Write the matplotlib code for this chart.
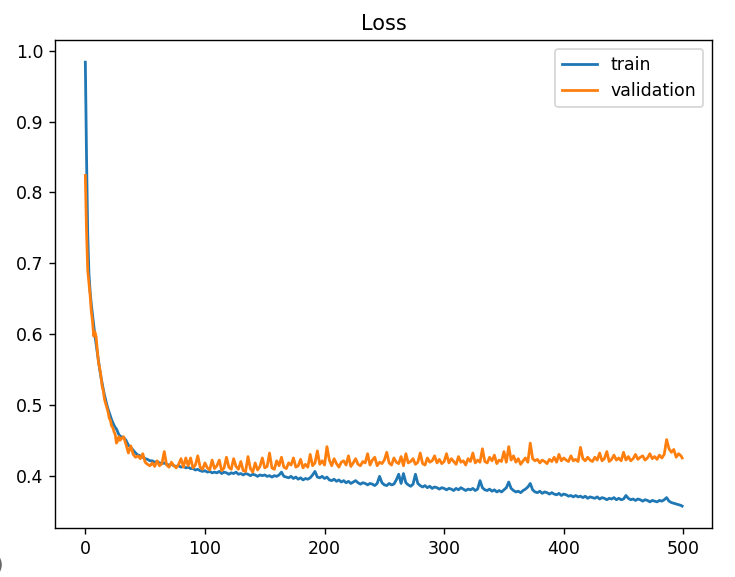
import numpy as np
import matplotlib
matplotlib.use("Agg")
import matplotlib.pyplot as plt

# epochs: every epoch for the steep start, then every 2nd epoch
epochs = np.r_[0:30, 30:499:2, 499]

train_loss = [
    0.984, 0.850, 0.742, 0.686, 0.660, 0.642, 0.627, 0.612, 0.598, 0.586,
    0.573, 0.561, 0.550, 0.540, 0.531, 0.522, 0.514, 0.507, 0.500, 0.494,
    0.489, 0.484, 0.479, 0.475, 0.471, 0.468, 0.466, 0.462, 0.458, 0.456,
    # 30 .. 498 step 2
    0.455, 0.454, 0.450, 0.443, 0.440, 0.436, 0.432, 0.429, 0.428, 0.426,
    0.424, 0.423, 0.421, 0.421, 0.419, 0.420, 0.418, 0.417, 0.418, 0.416,
    0.415, 0.416, 0.414, 0.413, 0.414, 0.412, 0.413, 0.411, 0.412, 0.410,
    0.410, 0.408, 0.409, 0.407, 0.406, 0.407, 0.405, 0.406, 0.404, 0.405,
    0.404, 0.406, 0.403, 0.405, 0.404, 0.402, 0.404, 0.403, 0.405, 0.402,
    0.403, 0.401, 0.403, 0.402, 0.400, 0.402, 0.401, 0.399, 0.401, 0.400,
    0.401, 0.399, 0.400, 0.398, 0.400, 0.399, 0.401, 0.405, 0.399, 0.398,
    0.397, 0.399, 0.396, 0.398, 0.395, 0.397, 0.394, 0.396, 0.395, 0.397,
    0.401, 0.406, 0.398, 0.397, 0.399, 0.396, 0.398, 0.394, 0.393, 0.395,
    0.392, 0.394, 0.391, 0.393, 0.390, 0.392, 0.389, 0.391, 0.393, 0.390,
    0.388, 0.390, 0.389, 0.387, 0.389, 0.388, 0.386, 0.389, 0.399, 0.390,
    0.387, 0.386, 0.389, 0.387, 0.388, 0.394, 0.402, 0.389, 0.403, 0.390,
    0.387, 0.385, 0.388, 0.402, 0.389, 0.386, 0.384, 0.386, 0.383, 0.385,
    0.382, 0.384, 0.383, 0.381, 0.383, 0.382, 0.380, 0.382, 0.381, 0.379,
    0.382, 0.380, 0.383, 0.381, 0.379, 0.381, 0.380, 0.382, 0.379, 0.381,
    0.393, 0.383, 0.380, 0.379, 0.381, 0.378, 0.380, 0.377, 0.379, 0.377,
    0.380, 0.383, 0.391, 0.382, 0.379, 0.377, 0.378, 0.376, 0.379, 0.381,
    0.384, 0.389, 0.380, 0.377, 0.376, 0.378, 0.375, 0.377, 0.376, 0.374,
    0.376, 0.374, 0.373, 0.375, 0.372, 0.374, 0.373, 0.371, 0.372, 0.370,
    0.372, 0.370, 0.371, 0.369, 0.371, 0.368, 0.370, 0.369, 0.368, 0.370,
    0.367, 0.369, 0.368, 0.366, 0.368, 0.367, 0.369, 0.366, 0.368, 0.366,
    0.367, 0.372, 0.368, 0.366, 0.367, 0.365, 0.367, 0.366, 0.364, 0.366,
    0.365, 0.363, 0.365, 0.364, 0.363, 0.365, 0.364, 0.366, 0.369, 0.364,
    0.362, 0.361, 0.360, 0.359, 0.358, 0.357,
]

val_loss = [
    0.824, 0.745, 0.690, 0.672, 0.655, 0.632, 0.618, 0.597, 0.603, 0.596,
    0.577, 0.560, 0.552, 0.541, 0.527, 0.520, 0.508, 0.502, 0.496, 0.490,
    0.481, 0.478, 0.470, 0.468, 0.462, 0.458, 0.446, 0.449, 0.455, 0.450,
    # 30 .. 498 step 2
    0.452, 0.455, 0.444, 0.432, 0.442, 0.430, 0.426, 0.428, 0.424, 0.431,
    0.419, 0.416, 0.414, 0.418, 0.413, 0.421, 0.414, 0.417, 0.434, 0.415,
    0.412, 0.419, 0.414, 0.411, 0.416, 0.424, 0.412, 0.425, 0.414, 0.425,
    0.411, 0.415, 0.428, 0.412, 0.409, 0.418, 0.411, 0.408, 0.422, 0.410,
    0.414, 0.422, 0.407, 0.411, 0.426, 0.412, 0.409, 0.424, 0.413, 0.409,
    0.420, 0.407, 0.406, 0.427, 0.410, 0.405, 0.418, 0.408, 0.413, 0.425,
    0.411, 0.413, 0.432, 0.411, 0.409, 0.421, 0.414, 0.426, 0.412, 0.410,
    0.418, 0.415, 0.425, 0.412, 0.414, 0.423, 0.411, 0.416, 0.412, 0.430,
    0.414, 0.418, 0.435, 0.416, 0.421, 0.415, 0.441, 0.422, 0.414, 0.424,
    0.417, 0.412, 0.419, 0.421, 0.415, 0.428, 0.413, 0.418, 0.424, 0.416,
    0.414, 0.420, 0.418, 0.431, 0.415, 0.422, 0.426, 0.414, 0.419, 0.417,
    0.422, 0.433, 0.418, 0.415, 0.425, 0.419, 0.417, 0.427, 0.414, 0.431,
    0.418, 0.420, 0.424, 0.416, 0.419, 0.432, 0.417, 0.415, 0.425, 0.419,
    0.421, 0.428, 0.418, 0.423, 0.417, 0.420, 0.431, 0.418, 0.424, 0.420,
    0.416, 0.427, 0.419, 0.421, 0.415, 0.424, 0.420, 0.432, 0.418, 0.422,
    0.419, 0.438, 0.420, 0.418, 0.426, 0.421, 0.429, 0.417, 0.422, 0.420,
    0.434, 0.419, 0.441, 0.422, 0.428, 0.419, 0.424, 0.416, 0.421, 0.425,
    0.419, 0.446, 0.424, 0.421, 0.423, 0.418, 0.422, 0.420, 0.417, 0.423,
    0.420, 0.426, 0.419, 0.430, 0.421, 0.425, 0.422, 0.420, 0.428, 0.421,
    0.423, 0.420, 0.440, 0.424, 0.421, 0.426, 0.422, 0.420, 0.426, 0.422,
    0.432, 0.421, 0.424, 0.434, 0.420, 0.423, 0.429, 0.422, 0.425, 0.421,
    0.433, 0.422, 0.427, 0.421, 0.424, 0.430, 0.423, 0.426, 0.428, 0.422,
    0.425, 0.431, 0.424, 0.427, 0.423, 0.429, 0.425, 0.430, 0.451, 0.438,
    0.433, 0.437, 0.426, 0.431, 0.428, 0.425,
]

fig = plt.figure(figsize=(5.88, 4.616), dpi=125)
ax = fig.add_axes([0.0755, 0.0844, 0.8932, 0.8463])

ax.plot(epochs, train_loss, label='train', lw=1.6)
ax.plot(epochs, val_loss, label='validation', lw=1.6)
ax.set_title('Loss')
ax.legend(loc='upper right')

# bit of a cropped caption at the bottom-left edge
fig.text(-0.006, 0.012, ')', color='0.4', fontsize=11)

fig.savefig('out.png', dpi=125)
